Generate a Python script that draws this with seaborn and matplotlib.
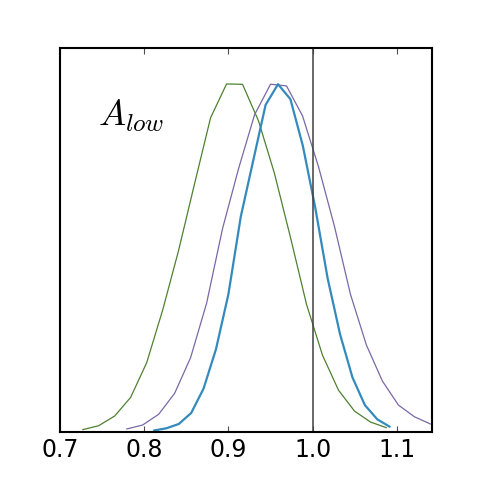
import numpy as np
import pandas as pd
import matplotlib
matplotlib.use("Agg")
import matplotlib.pyplot as plt
import seaborn as sns

# Bin centres and normalised densities
green_x0, green_dx = 0.7269, 0.01898
green_y = [0.0066, 0.018, 0.0457, 0.0991, 0.198, 0.3486, 0.52, 0.7114, 0.90, 0.997,
           0.996, 0.891, 0.74, 0.557, 0.366, 0.22, 0.12, 0.06, 0.0286, 0.0123]

purple_x0, purple_dx = 0.7791, 0.01898
purple_y = [0.0086, 0.02, 0.0506, 0.1106, 0.2129, 0.3686, 0.5829, 0.7543, 0.9086, 0.9963,
            0.9914, 0.9057, 0.76, 0.5886, 0.3943, 0.2486, 0.1457, 0.0771, 0.0437, 0.0229]

blue_x0, blue_dx = 0.8115, 0.01473
blue_y = [0.0043, 0.0106, 0.0229, 0.0543, 0.1243, 0.2371, 0.3943, 0.6171, 0.7771, 0.9371,
          0.9963, 0.9534, 0.82, 0.6429, 0.44, 0.28, 0.1563, 0.0771, 0.0363, 0.0151]

green_x = [green_x0 + i * green_dx for i in range(len(green_y))]
purple_x = [purple_x0 + i * purple_dx for i in range(len(purple_y))]
blue_x = [blue_x0 + i * blue_dx for i in range(len(blue_y))]

true_value = 1.0
xticks = [0.7, 0.8, 0.9, 1.0, 1.1]
label = r'$A_{low}$'

sns.set_theme(style="white")
plt.rcParams['font.family'] = ['DejaVu Sans']
plt.rcParams['mathtext.fontset'] = 'cm'
plt.rcParams['text.color'] = 'black'
plt.rcParams['xtick.color'] = 'black'
plt.rcParams['xtick.labelcolor'] = 'black'

fig = plt.figure(figsize=(4.8, 4.8), dpi=100)
ax = fig.add_axes([0.125, 0.1, 0.775, 0.8])

sns.lineplot(x=green_x, y=green_y, color='#4f8030', lw=0.9, ax=ax)
sns.lineplot(x=purple_x, y=purple_y, color='#7A68A6', lw=0.9, ax=ax)
sns.lineplot(x=blue_x, y=blue_y, color='#348ABD', lw=1.6, ax=ax)
ax.axvline(true_value, color='0.25', lw=1.1)

ax.set_xlim(0.7, 1.1416)
ax.set_ylim(0, 1.1)
ax.set_xticks(xticks)
ax.set_xticklabels([f"{t:.1f}" for t in xticks], fontsize=17, color='black')
ax.set_yticks([])
ax.tick_params(axis='x', direction='in', length=4, width=0.8, color='0.3',
               top=True, bottom=True, pad=4)
for s in ax.spines.values():
    s.set_visible(True)
    s.set_color('black')
    s.set_linewidth(1.5)

ax.text(0.102, 0.797, label, transform=ax.transAxes, fontsize=26,
        ha='left', va='baseline', color='black')

fig.savefig('out.png', dpi=100)
